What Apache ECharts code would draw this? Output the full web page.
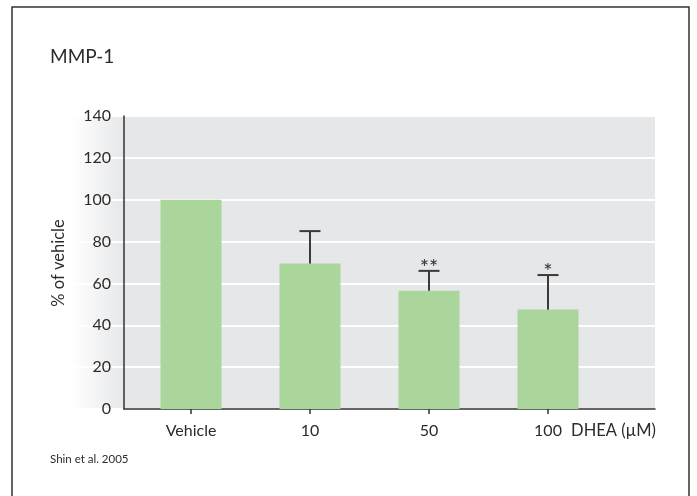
<!DOCTYPE html>
<html>
<head>
<meta charset="utf-8">
<script src="https://cdn.jsdelivr.net/npm/echarts@6/dist/echarts.min.js"></script>
<style>html,body{margin:0;padding:0;background:#fff;}#c{width:697px;height:496px;}</style>
</head>
<body>
<div id="c"></div>
<script>
var categories = ['Vehicle', '10', '50', '100'];
var values = [100, 69.5, 56.5, 47.5];
var errorTops = [null, 85, 66, 64];
var stars = ['', '', '**', '*'];
var yTicks = [0, 20, 40, 60, 80, 100, 120, 140];

var FONT = 'Lato, "Noto Sans", sans-serif';
var TXT = '#2b2b2b';
var chart = echarts.init(document.getElementById('c'));

var barData = values.map(function (v, i) { return [i, v]; });
var errData = [];
values.forEach(function (v, i) {
  if (errorTops[i] != null) errData.push([i, v, errorTops[i]]);
});
var catIdx = categories.map(function (c, i) { return i; });

chart.setOption({
  animation: false,
  backgroundColor: '#fff',
  grid: [
    { left: 124, right: 42, top: 116, bottom: 87, show: true, backgroundColor: '#e6e7e9', borderWidth: 0 },
    { left: 72, width: 52, top: 116, bottom: 87, show: true, borderWidth: 0,
      backgroundColor: new echarts.graphic.LinearGradient(0, 0, 1, 0, [
        { offset: 0, color: 'rgba(230,231,233,0)' },
        { offset: 1, color: '#e6e7e9' }
      ]) }
  ],
  xAxis: [
    {
      type: 'value', gridIndex: 0, min: -0.563, max: 3.899,
      axisLine: { show: true, onZero: false, lineStyle: { color: '#333', width: 1.5 } },
      axisTick: { show: true, customValues: catIdx, length: 5, lineStyle: { color: '#333', width: 1.5 } },
      axisLabel: { show: true, customValues: catIdx, margin: 14, color: TXT, fontSize: 16, fontFamily: FONT,
        formatter: function (v) { return categories[Math.round(v)]; } },
      splitLine: { show: false }
    },
    { type: 'value', gridIndex: 1, min: 0, max: 1, show: false }
  ],
  yAxis: [
    {
      type: 'value', gridIndex: 0, min: yTicks[0], max: yTicks[yTicks.length - 1], interval: 20,
      axisLine: { show: true, onZero: false, lineStyle: { color: '#333', width: 1.5 } },
      axisTick: { show: false },
      axisLabel: { show: true, margin: 13, color: TXT, fontSize: 16, fontFamily: FONT },
      splitLine: { show: true, lineStyle: { color: '#ffffff', width: 2 } }
    },
    {
      type: 'value', gridIndex: 1, min: yTicks[0], max: yTicks[yTicks.length - 1], interval: 20,
      axisLine: { show: false }, axisTick: { show: false }, axisLabel: { show: false },
      splitLine: { show: true, lineStyle: { color: '#ffffff', width: 2 } }
    }
  ],
  series: [
    {
      type: 'bar', xAxisIndex: 0, yAxisIndex: 0, data: barData, barWidth: 61,
      itemStyle: { color: '#aad59b' }, z: 3
    },
    {
      type: 'custom', xAxisIndex: 0, yAxisIndex: 0, data: errData, z: 4,
      renderItem: function (params, api) {
        var base = api.coord([api.value(0), api.value(1)]);
        var top = api.coord([api.value(0), api.value(2)]);
        var st = { stroke: '#3a3a3a', lineWidth: 2 };
        return {
          type: 'group',
          children: [
            { type: 'line', shape: { x1: base[0], y1: base[1], x2: top[0], y2: top[1] }, style: st },
            { type: 'line', shape: { x1: top[0] - 10.5, y1: top[1], x2: top[0] + 10.5, y2: top[1] }, style: st },
            { type: 'text', style: { text: stars[api.value(0)], x: top[0], y: top[1] - 3, align: 'center', verticalAlign: 'middle',
              fontSize: 22, fontFamily: FONT, fill: '#333' } }
          ]
        };
      }
    }
  ],
  graphic: [
    { type: 'rect', shape: { x: 12, y: 7, width: 677, height: 500 }, style: { fill: 'none', stroke: '#333', lineWidth: 1.5 }, silent: true },
    { type: 'text', x: 50, y: 57, style: { text: 'MMP-1', fontSize: 19, fontFamily: FONT, fill: TXT, verticalAlign: 'middle' } },
    { type: 'text', x: 50, y: 459, style: { text: 'Shin et al. 2005', fontSize: 11.5, fontFamily: FONT, fill: TXT, verticalAlign: 'middle' } },
    { type: 'text', x: 656, y: 431, style: { text: 'DHEA (\u00b5M)', fontSize: 16.5, fontFamily: FONT, fill: TXT, align: 'right', verticalAlign: 'middle' } },
    { type: 'text', x: 59, y: 263, rotation: Math.PI / 2, style: { text: '% of vehicle', fontSize: 16.5, fontFamily: FONT, fill: TXT, align: 'center', verticalAlign: 'middle' } }
  ]
});
</script>
</body>
</html>
